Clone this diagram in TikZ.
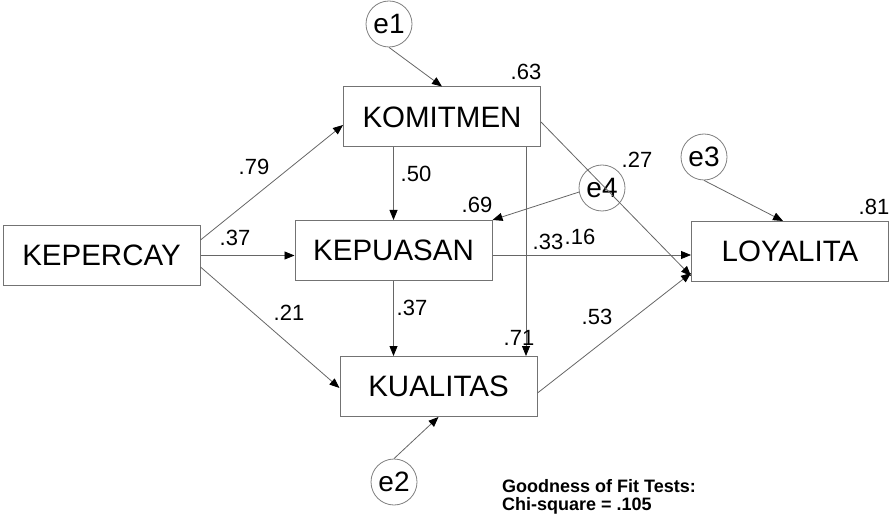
\documentclass[tikz,border=0pt]{standalone}
\usepackage{fontspec}
\setmainfont{Liberation Sans}
\usetikzlibrary{arrows.meta,calc}
\begin{document}
\begin{tikzpicture}[x=1pt,y=-1pt,
  varbox/.style={draw=black!55,line width=1pt,minimum width=197pt,minimum height=60pt,inner sep=0pt,font=\fontsize{29.5}{30}\selectfont},
  errc/.style={circle,draw=black!50,line width=0.8pt,minimum size=46pt,inner sep=0pt,font=\fontsize{28}{28}\selectfont},
  coef/.style={inner sep=0pt,font=\fontsize{22}{22}\selectfont},
  path/.style={draw=black!60,line width=0.8pt,-{Triangle[length=10pt,width=8pt,fill=black,color=black]}},
  gof/.style={inner sep=0pt,anchor=base west,font=\bfseries\fontsize{18}{18}\selectfont}]
\useasboundingbox (0,0) rectangle (893,518);
% variables
\node[varbox] (kep) at (101.5,255.5) {KEPERCAY};
\node[varbox] (kepu) at (393.5,250.5) {KEPUASAN};
\node[varbox] (kom) at (442,117) {KOMITMEN};
\node[varbox] (kual) at (438.5,386.5) {KUALITAS};
\node[varbox] (loy) at (790,251.5) {LOYALITA};
% error terms
\node[errc] (e1) at (389,24) {\raisebox{-2pt}{e1}};
\node[errc] (e2) at (394,482) {\raisebox{-2pt}{e2}};
\node[errc] (e3) at (704,157) {\raisebox{-2pt}{e3}};
\node[errc] (e4) at (602,188) {\raisebox{-2pt}{e4}};
% structural paths
\draw[path] ([yshift=15.5pt]kep.east) -- ([yshift=-8pt]kom.west);
\draw[path] (kep.east) -- ([yshift=-5pt]kepu.west);
\draw[path] ([yshift=-11.5pt]kep.east) -- ([yshift=-1.5pt]kual.west);
\draw[path] (kom.south -| kepu.north) -- (kepu.north);
\draw[path] ([xshift=84pt]kom.south) -- ([xshift=84pt]kom.south |- kual.north);
\draw[path] ([yshift=-5pt]kom.east) -- ([yshift=-24.5pt]loy.west);
\draw[path] ([yshift=-4.5pt]kepu.east) -- ([yshift=-4.5pt]kepu.east -| loy.west);
\draw[path] (kepu.south) -- (kepu.south |- kual.north);
\draw[path] ([yshift=-6.5pt]kual.east) -- ([yshift=-21.5pt]loy.west);
% error paths
\draw[path] (e1.south) -- (kom.north);
\draw[path] (e3.south) -- ([xshift=-7pt]loy.north);
\draw[path] (e4.190) -- (kepu.north east);
\draw[path] (e2.north) -- (kual.south);
% coefficients
\node[coef] (c79) at (254,167) {.79};
\node[coef] (c37a) at (235,238) {.37};
\node[coef] (c21) at (289,313) {.21};
\node[coef] (c50) at (416,174) {.50};
\node[coef] (c69) at (477,205) {.69};
\node[coef] (c27) at (637,160) {.27};
\node[coef] (c33) at (548,242) {.33};
\node[coef] (c16) at (580,237) {.16};
\node[coef] (c37b) at (412,308) {.37};
\node[coef] (c71) at (519,338) {.71};
\node[coef] (c53) at (597,317) {.53};
\node[coef] (c63) at (526,72) {.63};
\node[coef] (c81) at (874,207) {.81};
% fit text
\node[gof] (gof1) at (502,492) {Goodness of Fit Tests:};
\node[gof] (gof2) at (502,510) {Chi-square = .105};
\end{tikzpicture}
\end{document}
